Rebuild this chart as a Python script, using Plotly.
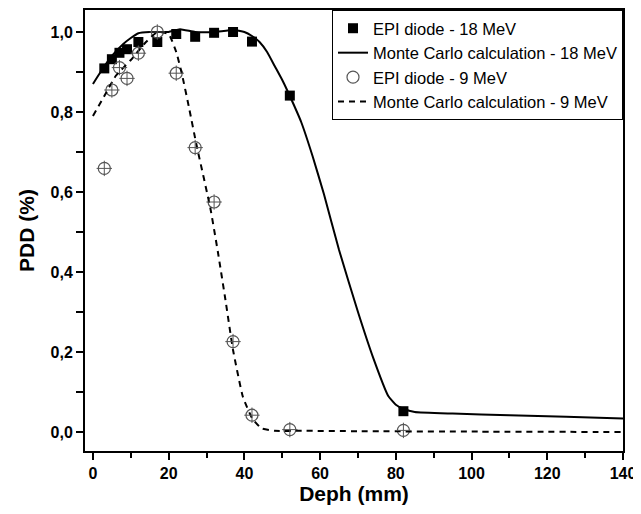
import plotly.graph_objects as go

# EPI diode measurements
epi18_x = [3, 5, 7, 9, 12, 17, 22, 27, 32, 37, 42, 52, 82]
epi18_y = [0.909, 0.932, 0.948, 0.957, 0.975, 0.975, 0.995, 0.988, 0.998, 1.0, 0.976, 0.841, 0.052]

epi9_x = [3, 5, 7, 9, 12, 17, 22, 27, 32, 37, 42, 52, 82]
epi9_y = [0.659, 0.855, 0.911, 0.884, 0.947, 1.0, 0.897, 0.711, 0.575, 0.226, 0.042, 0.006, 0.004]

# Monte Carlo curves
mc18_x = [0, 2, 5, 8, 10, 12, 15, 17, 20, 23, 27, 32, 37, 40, 42, 44, 46, 48, 50, 52, 55, 58,
          61, 65, 70, 74, 78, 80, 82, 85, 95, 110, 125, 140]
mc18_y = [0.87, 0.90, 0.94, 0.97, 0.985, 0.997, 1.0, 1.0, 1.0, 1.007, 1.0, 1.0, 1.005, 1.0,
          0.99, 0.975, 0.95, 0.915, 0.88, 0.84, 0.775, 0.69, 0.595, 0.455, 0.30,
          0.186, 0.09, 0.068, 0.058, 0.05, 0.046, 0.042, 0.038, 0.034]

mc9_x = [0, 3, 6, 10, 14, 17, 20, 22, 23.5, 25.5, 27.3, 31, 33, 35, 37, 39.6, 42, 44.5, 48,
         55, 70, 100, 140]
mc9_y = [0.79, 0.84, 0.89, 0.93, 0.975, 1.0, 0.995, 0.95, 0.895, 0.805, 0.72, 0.56, 0.45,
         0.33, 0.205, 0.088, 0.035, 0.009, 0.003, 0.003, 0.002, 0.001, 0.0]

x_ticks = [0, 20, 40, 60, 80, 100, 120, 140]
y_ticks = [0.0, 0.2, 0.4, 0.6, 0.8, 1.0]
y_tick_labels = ["0,0", "0,2", "0,4", "0,6", "0,8", "1,0"]

fig = go.Figure()

fig.add_trace(go.Scatter(
    x=epi18_x, y=epi18_y, mode="markers", name="EPI diode - 18 MeV",
    marker=dict(symbol="square", size=10, color="black"),
))
fig.add_trace(go.Scatter(
    x=mc18_x, y=mc18_y, mode="lines", name="Monte Carlo calculation - 18 MeV",
    line=dict(color="black", width=2, shape="spline", smoothing=0.4),
))
fig.add_trace(go.Scatter(
    x=epi9_x, y=epi9_y, mode="markers", name="EPI diode - 9 MeV",
    marker=dict(symbol="circle-open", size=12, color="#555555", line=dict(width=1.2)),
))
fig.add_trace(go.Scatter(
    x=mc9_x, y=mc9_y, mode="lines", name="Monte Carlo calculation - 9 MeV",
    line=dict(color="black", width=2, dash="6px,5px", shape="spline", smoothing=0.4),
))
# crosshair inside the circles
fig.add_trace(go.Scatter(
    x=epi9_x, y=epi9_y, mode="markers", showlegend=False, hoverinfo="skip",
    marker=dict(symbol="cross-thin-open", size=11, color="#555555", line=dict(width=1, color="#555555")),
))

axis_common = dict(
    showline=True, linecolor="black", linewidth=2, mirror=True,
    ticks="outside", ticklen=7, tickwidth=1.5, tickcolor="black",
    showgrid=False, zeroline=False, automargin=False,
    tickfont=dict(family="Liberation Sans, Arial", size=16, color="black", weight="bold"),
)

# the page body has an 8px default margin, so the figure is sized to fit the window
fig.update_layout(
    width=633, height=506,
    margin=dict(l=77, r=18, t=2, b=63),
    paper_bgcolor="white", plot_bgcolor="white",
    font=dict(family="Liberation Sans, Arial", color="black"),
    xaxis=dict(
        range=[-2.1, 140], tickvals=x_ticks,
        minor=dict(ticks="outside", ticklen=5, tickwidth=1.5, tickcolor="black", dtick=10, tick0=0),
        title=dict(text="<b>Deph (mm)</b>", font=dict(size=21), standoff=4),
        **axis_common,
    ),
    yaxis=dict(
        range=[-0.0475, 1.055], tickvals=y_ticks, ticktext=y_tick_labels,
        minor=dict(ticks="outside", ticklen=7, tickwidth=1.5, tickcolor="black", dtick=0.1, tick0=0),
        title=dict(text="<b>PDD (%)</b>", font=dict(size=21), standoff=10),
        **axis_common,
    ),
    legend=dict(
        x=1, y=1, xanchor="right", yanchor="top",
        bordercolor="black", borderwidth=1, bgcolor="white",
        font=dict(family="Liberation Sans, Arial", size=16.5, color="black"),
        tracegroupgap=0, itemsizing="trace",
    ),
    showlegend=True,
)

fig.write_html("out.html")
